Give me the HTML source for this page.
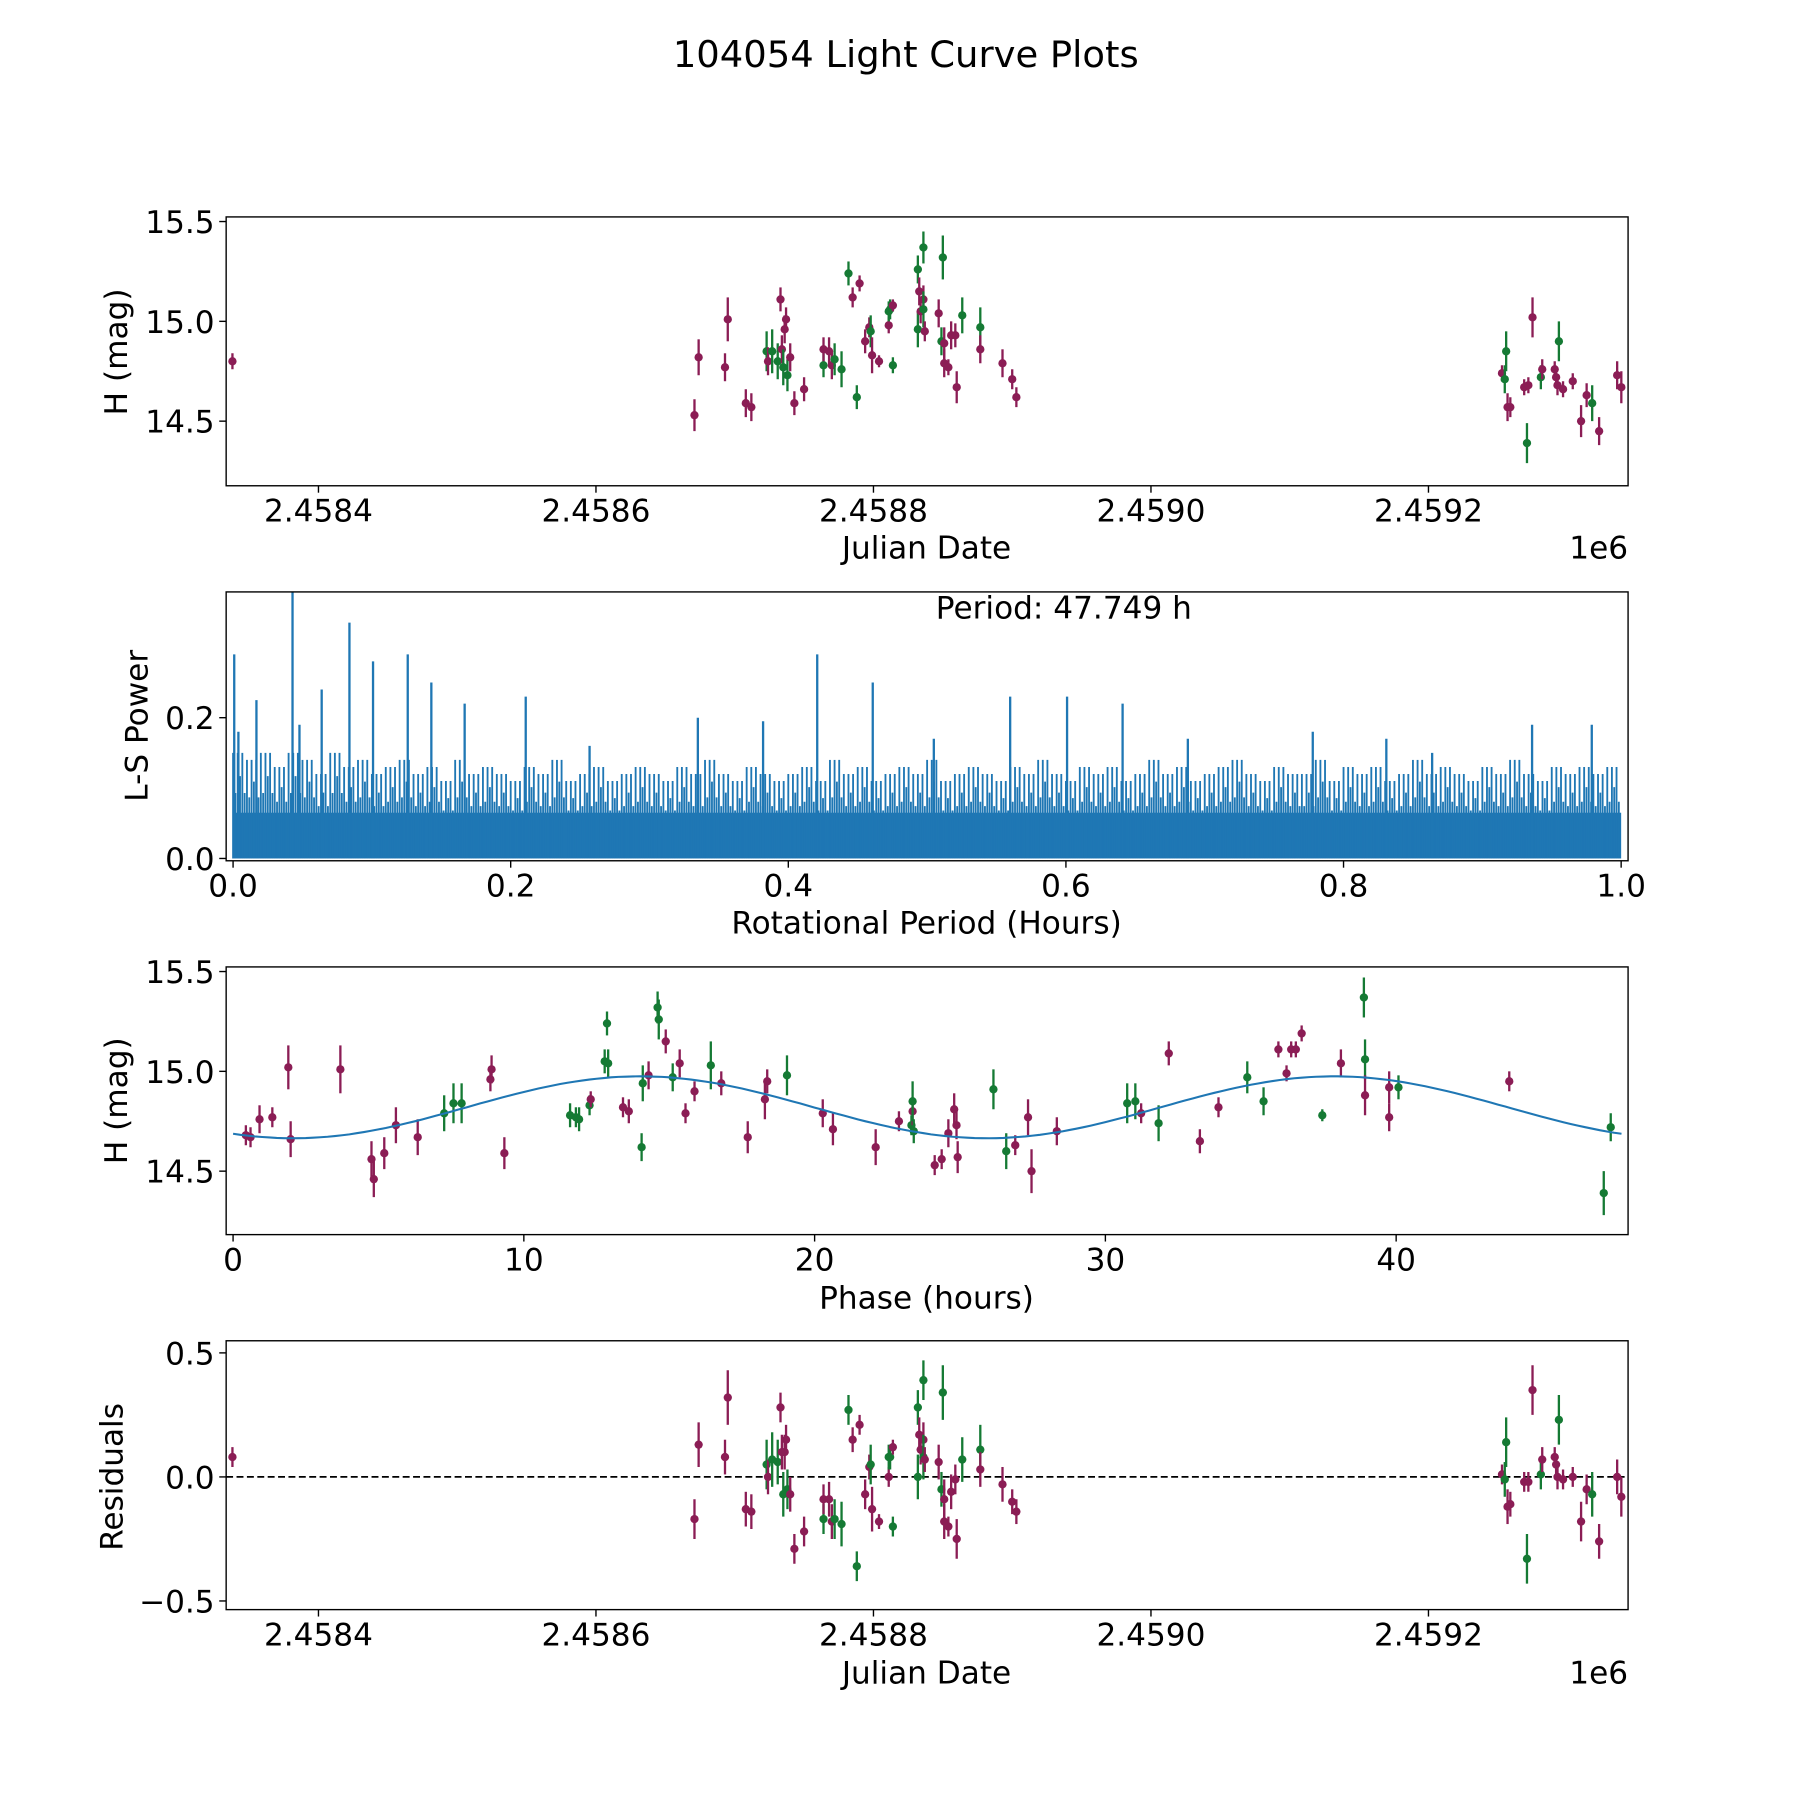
<!DOCTYPE html>
<html><head><meta charset="utf-8"><style>
html,body{margin:0;padding:0;background:#fff;}
svg{display:block;font-family:"DejaVu Sans","Liberation Sans",sans-serif;}
</style></head><body>
<svg id="fig" xmlns="http://www.w3.org/2000/svg" width="1800" height="1800" viewBox="0 0 1560 1560">
<rect x="0" y="0" width="1560" height="1560" fill="#fff"/>
<text x="785" y="58" font-size="32" text-anchor="middle">104054 Light Curve Plots</text>
<g id="layer"></g>
</svg>
<script>
// ---- Panel 1 / 4 data: observations ----
const jd = [2458338,2458671,2458674,2458693,2458695,2458708,2458712,2458723,2458724,2458727,2458731,2458733,2458734,2458735,2458736,2458737,2458738,2458740,2458743,2458750,2458764,2458764,2458768,2458770,2458772,2458777,2458782,2458785,2458788,2458790,2458794,2458797,2458798,2458799,2458804,2458811,2458811,2458812,2458814,2458814,2458832,2458832,2458833,2458834,2458836,2458836,2458836,2458837,2458847,2458849,2458850,2458851,2458851,2458854,2458856,2458859,2458860,2458864,2458877,2458877,2458893,2458900,2458903,2459253,2459255,2459256,2459257,2459259,2459269,2459271,2459272,2459275,2459281,2459282,2459291,2459292,2459293,2459294,2459297,2459304,2459310,2459314,2459318,2459323,2459336,2459339];
const mag = [14.80,14.53,14.82,14.77,15.01,14.59,14.57,14.85,14.80,14.85,14.80,15.11,14.86,14.77,14.96,15.01,14.73,14.82,14.59,14.66,14.78,14.86,14.85,14.78,14.81,14.76,15.24,15.12,14.62,15.19,14.90,14.97,14.95,14.83,14.80,14.98,15.05,15.06,15.08,14.78,15.26,14.96,15.15,15.05,15.11,15.37,15.06,14.95,15.04,14.90,15.32,14.89,14.79,14.77,14.93,14.93,14.67,15.03,14.97,14.86,14.79,14.71,14.62,14.74,14.71,14.85,14.57,14.57,14.67,14.39,14.68,15.02,14.72,14.76,14.76,14.72,14.68,14.90,14.66,14.70,14.50,14.63,14.59,14.45,14.73,14.67];
const resid = [0.08,-0.17,0.13,0.08,0.32,-0.13,-0.14,0.05,0.00,0.07,0.06,0.28,0.10,-0.07,0.10,0.15,-0.05,-0.07,-0.29,-0.22,-0.17,-0.09,-0.09,-0.18,-0.17,-0.19,0.27,0.15,-0.36,0.21,-0.07,0.04,0.05,-0.13,-0.18,0.00,0.08,0.08,0.12,-0.20,0.28,0.00,0.17,0.11,0.15,0.39,0.08,0.07,0.06,-0.05,0.34,-0.09,-0.18,-0.20,-0.06,-0.01,-0.25,0.07,0.11,0.03,-0.03,-0.10,-0.14,0.01,-0.01,0.14,-0.12,-0.11,-0.02,-0.33,-0.02,0.35,0.01,0.07,0.08,0.05,0.00,0.23,-0.01,0.00,-0.18,-0.05,-0.07,-0.26,0.00,-0.08];
const err = [0.04,0.08,0.09,0.07,0.11,0.07,0.07,0.10,0.07,0.11,0.09,0.06,0.07,0.09,0.07,0.06,0.08,0.07,0.06,0.06,0.06,0.06,0.07,0.07,0.08,0.09,0.06,0.05,0.06,0.04,0.06,0.05,0.08,0.09,0.03,0.04,0.05,0.05,0.03,0.04,0.07,0.09,0.07,0.06,0.07,0.08,0.09,0.05,0.07,0.07,0.11,0.08,0.07,0.04,0.07,0.06,0.08,0.09,0.10,0.07,0.07,0.05,0.05,0.04,0.07,0.10,0.07,0.05,0.04,0.10,0.04,0.10,0.06,0.05,0.04,0.04,0.05,0.10,0.04,0.04,0.08,0.06,0.09,0.07,0.07,0.08];
const band = ("mmmmmmmgmg"+"gmmgmmgmmm"+"gmmmgggmgm"+"mmgmmmggmg"+"ggmmmggmmg"+"gmmmmmmggm"+"mmmmggmmmg"+"mmgmmmmgmm"+"mmgmmm").split("");
// ---- Panel 2 data: periodogram ----
const peakPeriod = [0.0,0.003,0.016,0.042,0.047,0.063,0.083,0.100,0.125,0.142,0.166,0.210,0.256,0.334,0.381,0.420,0.460,0.504,0.559,0.600,0.640,0.687,0.777,0.830,0.863,0.935,0.978];
const peakPower = [0.29,0.18,0.225,0.38,0.19,0.24,0.335,0.28,0.29,0.25,0.22,0.23,0.16,0.20,0.195,0.29,0.25,0.17,0.23,0.23,0.22,0.17,0.18,0.17,0.15,0.19,0.19];
const envPower = [0.15,0.14,0.15,0.13,0.15,0.14,0.12,0.15,0.13,0.14,0.12,0.13,0.14,0.12,0.13,0.11,0.14,0.12,0.13,0.12,0.11,0.13,0.12,0.14,0.11,0.12,0.13,0.11,0.12,0.13,0.12,0.11,0.13,0.12,0.14,0.12,0.11,0.13,0.12,0.11,0.12,0.13,0.11,0.14,0.12,0.13,0.11,0.12,0.13,0.12,0.14,0.11,0.12,0.13,0.12,0.11,0.13,0.12,0.14,0.12,0.11,0.13,0.12,0.13,0.11,0.12,0.14,0.12,0.13,0.11,0.12,0.13,0.14,0.12,0.11,0.13,0.12,0.12,0.14,0.11,0.13,0.12,0.13,0.11,0.12,0.14,0.12,0.13,0.12,0.11,0.13,0.12,0.14,0.12,0.11,0.13,0.12,0.13,0.12,0.13];
const xTicksP2 = [0.0,0.2,0.4,0.6,0.8,1.0];
// ---- Panel 3 data: phased ----
const phase = [0.44,0.60,0.91,1.35,1.90,1.98,3.69,4.76,4.84,5.20,5.60,6.35,7.26,7.58,7.86,8.85,8.89,9.33,11.59,11.79,11.90,12.26,12.30,12.78,12.86,12.90,13.41,13.61,14.05,14.09,14.29,14.60,14.64,14.88,15.12,15.36,15.56,15.87,16.43,16.79,17.70,18.29,18.37,19.05,20.28,20.63,22.10,22.90,23.33,23.37,23.37,23.41,24.13,24.37,24.60,24.80,24.88,24.92,26.15,26.59,26.90,27.34,27.46,28.33,30.75,31.03,31.23,31.83,32.18,33.25,33.89,34.88,35.44,35.95,36.23,36.39,36.55,36.75,37.46,38.10,38.89,38.93,38.93,39.76,39.76,40.08,43.89,47.14,47.38];
const phaseMag = [14.68,14.67,14.76,14.77,15.02,14.66,15.01,14.56,14.46,14.59,14.73,14.67,14.79,14.84,14.84,14.96,15.01,14.59,14.78,14.77,14.76,14.83,14.86,15.05,15.24,15.04,14.82,14.80,14.62,14.94,14.98,15.32,15.26,15.15,14.97,15.04,14.79,14.90,15.03,14.94,14.67,14.86,14.95,14.98,14.79,14.71,14.62,14.75,14.73,14.80,14.85,14.70,14.53,14.56,14.69,14.81,14.73,14.57,14.91,14.60,14.63,14.77,14.50,14.70,14.84,14.85,14.79,14.74,15.09,14.65,14.82,14.97,14.85,15.11,14.99,15.11,15.11,15.19,14.78,15.04,15.37,15.06,14.88,14.92,14.77,14.92,14.95,14.39,14.72];
const phaseBand = ("mmmmmmmmmm"+"mmgggmmmgg"+"ggmgggmmgg"+"mggmgmmmgm"+"mmmgmmmmgm"+"ggmmmmmmgg"+"mmmmggmgmm"+"mggmmmmmgm"+"ggmmmgmgg").split("");
const phaseErr = [0.05,0.05,0.07,0.05,0.11,0.09,0.12,0.09,0.09,0.08,0.09,0.09,0.09,0.10,0.10,0.06,0.07,0.08,0.06,0.05,0.06,0.05,0.04,0.06,0.06,0.07,0.05,0.06,0.07,0.09,0.07,0.08,0.10,0.06,0.07,0.07,0.05,0.05,0.12,0.06,0.08,0.10,0.06,0.10,0.07,0.08,0.09,0.05,0.05,0.07,0.10,0.06,0.05,0.05,0.07,0.08,0.07,0.08,0.10,0.09,0.05,0.09,0.11,0.07,0.10,0.09,0.05,0.09,0.06,0.06,0.05,0.08,0.07,0.04,0.04,0.04,0.04,0.04,0.03,0.07,0.10,0.10,0.10,0.08,0.07,0.06,0.05,0.11,0.07];
const modelMean = 14.82, modelAmp = 0.155, modelPeriod = 23.87, modelPeak = 14.0;
const xTicksJD = [2458400,2458600,2458800,2459000,2459200];
const xLabelsJD = ["2.4584","2.4586","2.4588","2.4590","2.4592"];

const NS = "http://www.w3.org/2000/svg";
const layer = document.getElementById('layer');
const MAG = "#8b1d55", GRN = "#157a34", BLUE = "#1f77b4";
const FS = 27;
function mk(tag, attrs, parent){ const e=document.createElementNS(NS,tag); for(const k in attrs) e.setAttribute(k,attrs[k]); (parent||layer).appendChild(e); return e; }
function txt(s, attrs, parent){ const e=mk('text',attrs,parent); e.textContent=s; return e; }

const xJD = v => 276 + (v-2458400)*1.2025;
const yMag1 = v => 365 - (v-14.5)*173;
const xPer = v => 202 + v*1203;
const yPow = v => 744 - v*610;
const xPh = v => 202 + v*25.2;
const yMag3 = v => 1015 - (v-14.5)*173;
const yRes = v => 1280 - v*215;

function frame(name){
  const g = mk('g',{});
  
  
  return g;
}
function box(g,l,t,r,b){
  const e = mk('rect',{x:l,y:t,width:r-l,height:b-t,fill:'none',stroke:'#000','stroke-width':1.2},g);
  
  
}
function yTick(g,x,y,label){
  mk('line',{x1:x-6,y1:y,x2:x,y2:y,stroke:'#000','stroke-width':1.2},g);
  const t = txt(label,{x:x-10,y:y+10,'font-size':FS,'text-anchor':'end'},g);
  
  
}
function xTick(g,x,y,label){
  mk('line',{x1:x,y1:y,x2:x,y2:y+6,stroke:'#000','stroke-width':1.2},g);
  const t = txt(label,{x:x,y:y+31,'font-size':FS,'text-anchor':'middle'},g);
  
  
}
function label(g,s,x,y,rot,name){
  const t = txt(s,{x:x,y:y,'font-size':FS,'text-anchor':'middle',transform:rot?`rotate(-90 ${x} ${y})`:''},g);
  
  
}
function errPoint(g,x,y1,y2,y,c,clip){
  const gg = mk('g',{'clip-path':`url(#${clip})`},g);
  mk('line',{x1:x,y1:y1,x2:x,y2:y2,stroke:c,'stroke-width':2},gg);
  const d = mk('circle',{cx:x,cy:y,r:3.6,fill:c},gg);
  
  
}
const defs = mk('defs',{});
function clip(id,l,t,r,b){ const c=mk('clipPath',{id:id},defs); mk('rect',{x:l,y:t,width:r-l,height:b-t},c); }
clip('c1',196,188,1411,421); clip('c2',196,513,1411,746); clip('c3',196,838,1411,1070); clip('c4',196,1162,1411,1395);

// Panel 1
const g1 = frame('light-curve-panel');
jd.forEach((v,i)=>{ const c=band[i]==='g'?GRN:MAG; errPoint(g1,xJD(v),yMag1(mag[i]+err[i]),yMag1(mag[i]-err[i]),yMag1(mag[i]),c,'c1'); });
box(g1,196,188,1411,421);
[14.5,15.0,15.5].forEach(v=>yTick(g1,196,yMag1(v),v.toFixed(1)));
xTicksJD.forEach((v,i)=>xTick(g1,xJD(v),421,xLabelsJD[i]));
label(g1,'Julian Date',803,484,false,'x-axis-title');
txt('1e6',{x:1411,y:484,'font-size':FS,'text-anchor':'end'},g1);
label(g1,'H (mag)',110,305,true,'y-axis-title');

// Panel 2
const g2 = frame('periodogram-panel');
const g2c = mk('g',{'clip-path':'url(#c2)'},g2);
mk('rect',{x:xPer(0),y:yPow(0.065),width:xPer(1)-xPer(0),height:yPow(0)-yPow(0.065),fill:BLUE},g2c);
envPower.forEach((v,i)=>{
  const x0 = xPer(i/envPower.length), x1 = xPer((i+1)/envPower.length);
  for(let k=0;k<6;k++){
    const x = x0 + (x1-x0)*k/6;
    const h = v*(k%2===0?1:(k%3===0?0.78:0.62));
    mk('line',{x1:x,y1:yPow(0),x2:x,y2:yPow(h),stroke:BLUE,'stroke-width':1.6},g2c);
  }
});
peakPeriod.forEach((v,i)=>{
  const e = mk('line',{x1:xPer(v)+1,y1:yPow(0),x2:xPer(v)+1,y2:yPow(peakPower[i]),stroke:BLUE,'stroke-width':2},g2c);
  
  
});
box(g2,196,513,1411,746);
[0.0,0.2].forEach(v=>yTick(g2,196,yPow(v),v.toFixed(1)));
xTicksP2.forEach(v=>xTick(g2,xPer(v),746,v.toFixed(1)));
label(g2,'Rotational Period (Hours)',803,809,false,'x-axis-title');
label(g2,'L-S Power',128,629,true,'y-axis-title');
const pt = txt('Period: 47.749 h',{x:922,y:536,'font-size':FS,'text-anchor':'middle'},g2);



// Panel 3
const g3 = frame('phased-curve-panel');
phase.forEach((v,i)=>{ const c=phaseBand[i]==='g'?GRN:MAG; errPoint(g3,xPh(v),yMag3(phaseMag[i]+phaseErr[i]),yMag3(phaseMag[i]-phaseErr[i]),yMag3(phaseMag[i]),c,'c3'); });
let d='';
for(let p=0;p<=47.75;p+=0.25){ const m=modelMean+modelAmp*Math.cos(2*Math.PI*(p-modelPeak)/modelPeriod); d+=(p===0?'M':'L')+xPh(p).toFixed(1)+','+yMag3(m).toFixed(1); }
const mp = mk('path',{d:d,fill:'none',stroke:BLUE,'stroke-width':1.8},g3);


box(g3,196,838,1411,1070);
[14.5,15.0,15.5].forEach(v=>yTick(g3,196,yMag3(v),v.toFixed(1)));
[0,10,20,30,40].forEach(v=>xTick(g3,xPh(v),1070,String(v)));
label(g3,'Phase (hours)',803,1134,false,'x-axis-title');
label(g3,'H (mag)',110,954,true,'y-axis-title');

// Panel 4
const g4 = frame('residuals-panel');
const zl = mk('line',{x1:196,y1:yRes(0),x2:1411,y2:yRes(0),stroke:'#000','stroke-width':1.5,'stroke-dasharray':'6,3'},g4);


jd.forEach((v,i)=>{ const c=band[i]==='g'?GRN:MAG; errPoint(g4,xJD(v),yRes(resid[i]+err[i]),yRes(resid[i]-err[i]),yRes(resid[i]),c,'c4'); });
box(g4,196,1162,1411,1395);
[[0.5,'0.5'],[0,'0.0'],[-0.5,'\u22120.5']].forEach(a=>yTick(g4,196,yRes(a[0]),a[1]));
xTicksJD.forEach((v,i)=>xTick(g4,xJD(v),1395,xLabelsJD[i]));
label(g4,'Julian Date',803,1459,false,'x-axis-title');
txt('1e6',{x:1411,y:1459,'font-size':FS,'text-anchor':'end'},g4);
label(g4,'Residuals',106,1280,true,'y-axis-title');
</script>
</body></html>
